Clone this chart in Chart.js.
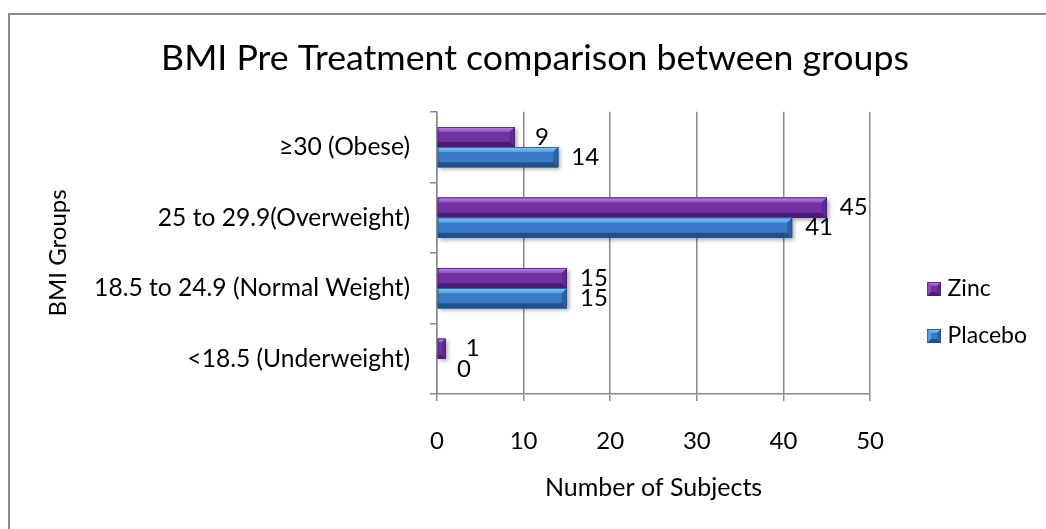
<!DOCTYPE html>
<html>
<head>
<meta charset="utf-8">
<title>BMI Pre Treatment comparison between groups</title>
<script src="https://cdn.jsdelivr.net/npm/chart.js@4.4.1/dist/chart.umd.min.js"></script>
<style>
  html, body { margin: 0; padding: 0; background: #ffffff; }
  #wrap { position: relative; width: 1046px; height: 529px; overflow: hidden; }
  #frame { position: absolute; left: 8px; top: 13px; width: 1100px; height: 600px;
           border-left: 2px solid #8a8a8a; border-top: 2px solid #8a8a8a; }
  #c { position: absolute; left: 0; top: 0; }
</style>
</head>
<body>
<div id="wrap">
  <div id="frame"></div>
  <canvas id="c" width="1046" height="529"></canvas>
</div>
<script>
// BMI categories, listed top to bottom
const categories = ['≥30 (Obese)', '25 to 29.9(Overweight)', '18.5 to 24.9 (Normal Weight)', '<18.5 (Underweight)'];
// Number of subjects per BMI group
const zincValues = [9, 45, 15, 1];
const placeboValues = [14, 41, 15, 0];
// Value axis range
const axisMin = 0;
const axisMax = 50;
const axisStep = 10;

const FONT = 'Lato, "Liberation Sans", Arial, sans-serif';

// Bevel palettes for each series
const palettes = {
  zinc:    { main: '#7232a4', lightTop: '#bd88e8', lightBot: '#8f4cc2', dark: '#4c1c76', side: '#5e2990' },
  placebo: { main: '#3a7bc8', lightTop: '#80c8f8', lightBot: '#58a0e2', dark: '#22508a', side: '#2c62a3' }
};

function drawBevelRect(ctx, L, T, R, B, pal, bevel, withLeft) {
  const w = R - L, h = B - T;
  if (w <= 0.5) return;
  const b = Math.min(bevel, w / 2, h / 2);
  ctx.save();
  ctx.fillStyle = pal.main;
  ctx.fillRect(L, T, w, h);
  // top face
  const g = ctx.createLinearGradient(0, T, 0, T + b);
  g.addColorStop(0, pal.lightTop);
  g.addColorStop(1, pal.lightBot);
  ctx.fillStyle = g;
  ctx.beginPath();
  ctx.moveTo(L, T); ctx.lineTo(R, T); ctx.lineTo(R - b, T + b);
  ctx.lineTo(withLeft ? L + b : L, T + b); ctx.closePath(); ctx.fill();
  // bottom face
  ctx.fillStyle = pal.dark;
  ctx.beginPath();
  ctx.moveTo(L, B); ctx.lineTo(R, B); ctx.lineTo(R - b, B - b);
  ctx.lineTo(withLeft ? L + b : L, B - b); ctx.closePath(); ctx.fill();
  // right face
  ctx.fillStyle = pal.side;
  ctx.beginPath();
  ctx.moveTo(R, T); ctx.lineTo(R, B); ctx.lineTo(R - b, B - b); ctx.lineTo(R - b, T + b);
  ctx.closePath(); ctx.fill();
  if (withLeft) {
    ctx.fillStyle = pal.lightBot;
    ctx.beginPath();
    ctx.moveTo(L, T); ctx.lineTo(L, B); ctx.lineTo(L + b, B - b); ctx.lineTo(L + b, T + b);
    ctx.closePath(); ctx.fill();
  }
  ctx.strokeStyle = pal.dark;
  ctx.lineWidth = 0.8;
  ctx.strokeRect(L + 0.4, T + 0.4, w - 0.8, h - 0.8);
  ctx.restore();
}

// Legend swatch: bevelled square placed at the right edge of a wider transparent image
const SWATCH_BOX = 42;      // legend box slot width
const SWATCH_SIZE = 14;
function makeSwatch(pal) {
  const cv = document.createElement('canvas');
  cv.width = SWATCH_BOX + 10;
  cv.height = SWATCH_SIZE;
  const ctx = cv.getContext('2d');
  const L = cv.width - SWATCH_SIZE;
  drawBevelRect(ctx, L, 0, cv.width, SWATCH_SIZE, pal, 4, true);
  return cv;
}

const bevelBars = {
  id: 'bevelBars',
  beforeDatasetsDraw(chart) {
    const ctx = chart.ctx;
    ctx.save();
    chart.data.datasets.forEach((ds, i) => {
      chart.getDatasetMeta(i).data.forEach(bar => {
        const { x, y, base, height } = bar.getProps(['x', 'y', 'base', 'height'], true);
        if (x - base < 0.5) return;
        ctx.shadowColor = 'rgba(0,0,0,0.35)';
        ctx.shadowBlur = 4;
        ctx.shadowOffsetX = 2;
        ctx.shadowOffsetY = 2;
        ctx.fillStyle = ds.backgroundColor;
        ctx.fillRect(base, y - height / 2, x - base, height);
      });
    });
    ctx.restore();
  },
  afterDatasetsDraw(chart) {
    const ctx = chart.ctx;
    chart.data.datasets.forEach((ds, i) => {
      const pal = palettes[ds.paletteKey];
      chart.getDatasetMeta(i).data.forEach(bar => {
        const { x, y, base, height } = bar.getProps(['x', 'y', 'base', 'height'], true);
        drawBevelRect(ctx, base, y - height / 2, x, y + height / 2, pal, 5, false);
      });
    });
  }
};

const valueLabels = {
  id: 'valueLabels',
  afterDatasetsDraw(chart) {
    const ctx = chart.ctx;
    ctx.save();
    ctx.font = '24px ' + FONT;
    ctx.fillStyle = '#000';
    ctx.textAlign = 'center';
    ctx.textBaseline = 'middle';
    chart.data.datasets.forEach((ds, i) => {
      chart.getDatasetMeta(i).data.forEach((bar, j) => {
        const { x, y } = bar.getProps(['x', 'y'], true);
        ctx.fillText(String(ds.data[j]), x + 27, y);
      });
    });
    ctx.restore();
  }
};

new Chart(document.getElementById('c'), {
  type: 'bar',
  data: {
    labels: categories,
    datasets: [
      { label: 'Zinc', data: zincValues, paletteKey: 'zinc',
        backgroundColor: palettes.zinc.main, borderWidth: 0,
        pointStyle: makeSwatch(palettes.zinc) },
      { label: 'Placebo', data: placeboValues, paletteKey: 'placebo',
        backgroundColor: palettes.placebo.main, borderWidth: 0,
        pointStyle: makeSwatch(palettes.placebo) }
    ]
  },
  plugins: [bevelBars, valueLabels],
  options: {
    indexAxis: 'y',
    responsive: false,
    animation: false,
    categoryPercentage: 0.57,
    barPercentage: 1.0,
    layout: { padding: { left: 33, right: 9, top: 0, bottom: 0 } },
    plugins: {
      title: {
        display: true,
        text: 'BMI Pre Treatment comparison between groups',
        color: '#000',
        font: { family: FONT, size: 35.7, weight: 'normal', lineHeight: 1.2 },
        padding: { top: 37, bottom: 32 }
      },
      legend: {
        position: 'right',
        align: 'center',
        // empty title block only pushes the two entries down beside the plot
        title: { display: true, text: '', font: { size: 10, lineHeight: 1 }, padding: { top: 86, bottom: 0 } },
        labels: {
          usePointStyle: true,
          pointStyleWidth: SWATCH_BOX,
          color: '#000',
          padding: 24,
          font: { family: FONT, size: 23 }
        }
      },
      tooltip: { enabled: false }
    },
    scales: {
      x: {
        min: axisMin,
        max: axisMax,
        ticks: { stepSize: axisStep, color: '#000', padding: 26, font: { family: FONT, size: 24 } },
        grid: { color: '#8a8a8a', lineWidth: 1.5, tickLength: 7, drawTicks: true },
        border: { color: '#8a8a8a', width: 1.5 },
        title: { display: true, text: 'Number of Subjects', color: '#000',
                 font: { family: FONT, size: 25 }, padding: { top: 0, bottom: 26 } },
        afterFit(scale) { scale.height = 135; }
      },
      y: {
        ticks: { color: '#000', padding: 20, font: { family: FONT, size: 24.6 } },
        grid: { drawOnChartArea: false, drawTicks: true, tickLength: 7, color: '#8a8a8a', lineWidth: 1.5 },
        border: { color: '#8a8a8a', width: 1.5 },
        title: { display: true, text: 'BMI Groups', color: '#000',
                 font: { family: FONT, size: 24 }, padding: { top: 11, bottom: 0 } },
        afterFit(scale) { scale.width = 404; }
      }
    }
  }
});
</script>
</body>
</html>
